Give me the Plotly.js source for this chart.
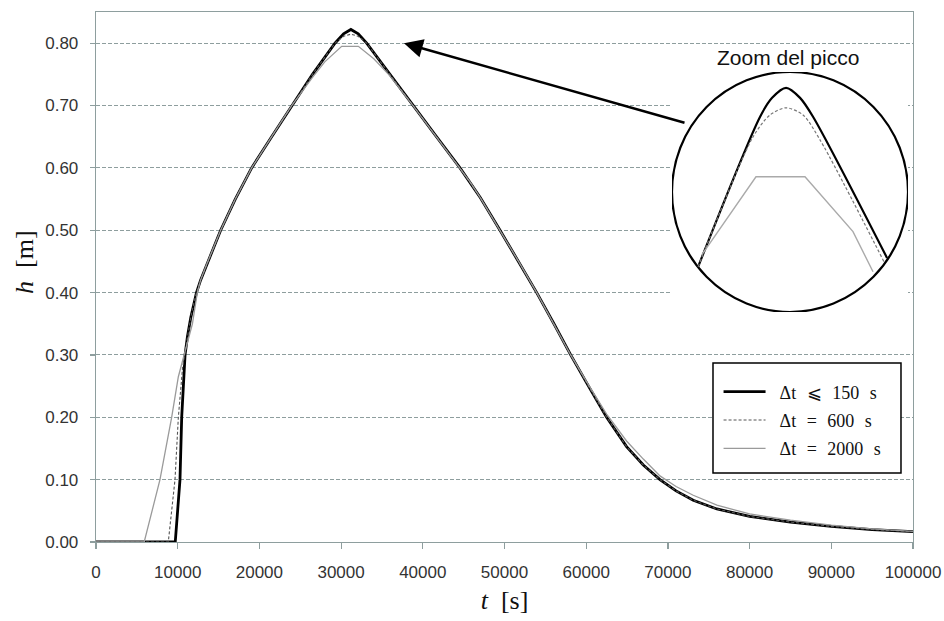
<!DOCTYPE html>
<html>
<head>
<meta charset="utf-8">
<script src="https://cdn.plot.ly/plotly-3.0.1.min.js"></script>
<style>html,body{margin:0;padding:0;background:#fff;}#chart{width:944px;height:621px;}</style>
</head>
<body>
<div id="chart"></div>
<script>
// ---- main series: t [s], h [m] ----
const t_dt150 = [0, 9700, 10280, 10490, 10900, 11200, 11600, 12000, 12300, 12800, 13600, 15260, 17050, 19050, 21500, 23950, 26500, 29250, 30300, 31200, 32100, 33130, 35950, 38800, 41670, 44550, 45800, 47050, 49450, 51720, 53940, 56050, 58100, 60280, 62500, 64940, 66990, 69030, 71000, 73100, 76000, 80000, 85000, 90000, 95000, 100000];
const h_dt150 = [0, 0, 0.10, 0.20, 0.30, 0.33, 0.36, 0.385, 0.40, 0.42, 0.447, 0.50, 0.55, 0.60, 0.65, 0.70, 0.75, 0.80, 0.815, 0.822, 0.815, 0.80, 0.75, 0.70, 0.65, 0.60, 0.577, 0.552, 0.50, 0.45, 0.40, 0.35, 0.30, 0.25, 0.20, 0.153, 0.1235, 0.10, 0.082, 0.067, 0.053, 0.041, 0.032, 0.025, 0.020, 0.0165];

const t_dt600 = [0, 8850, 9670, 10080, 10600, 11200, 11600, 12000, 12300, 12800, 13600, 15260, 17050, 19050, 21500, 23950, 26500, 29250, 30300, 31200, 32100, 33130, 35950, 38800, 41670, 44550, 45800, 47050, 49450, 51720, 53940, 56050, 58100, 60280, 62500, 64940, 66990, 69030, 71000, 73100, 76000, 80000, 85000, 90000, 95000, 100000];
const h_dt600 = [0, 0, 0.10, 0.20, 0.28, 0.33, 0.36, 0.385, 0.40, 0.42, 0.447, 0.50, 0.55, 0.60, 0.65, 0.70, 0.75, 0.80, 0.811, 0.8145, 0.811, 0.80, 0.75, 0.70, 0.65, 0.60, 0.577, 0.552, 0.50, 0.45, 0.40, 0.35, 0.30, 0.25, 0.20, 0.153, 0.1235, 0.10, 0.082, 0.067, 0.053, 0.041, 0.032, 0.025, 0.020, 0.0165];

const t_dt2000 = [0, 5900, 7830, 9260, 10080, 11100, 11800, 12400, 12800, 13600, 15260, 17050, 19050, 21500, 23950, 26500, 28000, 30070, 32110, 34000, 35950, 38800, 41670, 44550, 45800, 47050, 49450, 51720, 53940, 56050, 58100, 60280, 62500, 64940, 66990, 69030, 71000, 73100, 76000, 80000, 85000, 90000, 95000, 100000];
const h_dt2000 = [0, 0, 0.10, 0.20, 0.265, 0.313, 0.35, 0.40, 0.42, 0.447, 0.50, 0.55, 0.60, 0.65, 0.70, 0.745, 0.77, 0.795, 0.795, 0.775, 0.748, 0.70, 0.65, 0.60, 0.577, 0.552, 0.50, 0.45, 0.40, 0.35, 0.30, 0.252, 0.205, 0.162, 0.133, 0.106, 0.089, 0.075, 0.059, 0.045, 0.035, 0.027, 0.021, 0.017];

// ---- zoom of the peak (inset) ----
const zoom_t_dt150 = [27400, 29930, 30420, 30990, 31560, 32090, 35110];
const zoom_h_dt150 = [0.7697, 0.8119, 0.8172, 0.8200, 0.8172, 0.8119, 0.7722];
const zoom_t_dt600 = [27400, 29640, 30334, 30987, 31681, 32374, 34987];
const zoom_h_dt600 = [0.7697, 0.8062, 0.8124, 0.8144, 0.8124, 0.8054, 0.7711];
const zoom_t_dt2000 = [27558, 29762, 31762, 33721, 34538];
const zoom_h_dt2000 = [0.7731, 0.7950, 0.7950, 0.7796, 0.7683];
const zoomT = [26334, 35966];
const zoomH = [0.757, 0.8245];

const sp = '\u2002\u200A';
const legendNames = ['\u2002\u0394t' + sp + '\u2A7D' + sp + '150' + sp + 's',
                     '\u2002\u0394t' + sp + '=' + sp + '600' + sp + 's',
                     '\u2002\u0394t' + sp + '=' + sp + '2000' + sp + 's'];
const xTicks = [0, 10000, 20000, 30000, 40000, 50000, 60000, 70000, 80000, 90000, 100000];
const yTicks = [0, 0.1, 0.2, 0.3, 0.4, 0.5, 0.6, 0.7, 0.8];

const axisCol = '#8e9e9e';
const styles = [
  {color: '#000000', width: 2.8, dash: 'solid'},
  {color: '#555555', width: 1.1, dash: '3px,2px'},
  {color: '#9a9a9a', width: 1.3, dash: 'solid'}
];
const inStyles = [
  {color: '#000000', width: 2.2, dash: 'solid', shape: 'spline', smoothing: 0.8},
  {color: '#777777', width: 1.2, dash: '3px,2px', shape: 'spline', smoothing: 0.8},
  {color: '#aaaaaa', width: 1.4, dash: 'solid'}
];

const main = [[t_dt150, h_dt150], [t_dt600, h_dt600], [t_dt2000, h_dt2000]];
const zoom = [[zoom_t_dt150, zoom_h_dt150], [zoom_t_dt600, zoom_h_dt600], [zoom_t_dt2000, zoom_h_dt2000]];

const traces = [];
main.forEach((d, i) => {
  traces.push({x: d[0], y: d[1], type: 'scatter', mode: 'lines', name: legendNames[i],
    line: styles[i], xaxis: 'x', yaxis: 'y', legendgroup: 'g' + i, hoverinfo: 'skip'});
});
zoom.forEach((d, i) => {
  traces.push({x: d[0], y: d[1], type: 'scatter', mode: 'lines', showlegend: false,
    line: inStyles[i], xaxis: 'x2', yaxis: 'y2', hoverinfo: 'skip'});
});

const layout = {
  width: 944, height: 621,
  margin: {l: 96, r: 31, t: 12, b: 79},
  paper_bgcolor: '#ffffff', plot_bgcolor: '#ffffff',
  showlegend: true,
  legend: {
    x: 0.762, y: 0.318, xanchor: 'left', yanchor: 'top',
    bgcolor: 'rgba(0,0,0,0)', borderwidth: 0,
    font: {family: 'Liberation Serif, DejaVu Serif, serif', size: 18, color: '#111'},
    traceorder: 'grouped', tracegroupgap: 2, itemwidth: 42
  },
  xaxis: {
    domain: [0, 1], range: [0, 100000], tickvals: xTicks, ticktext: xTicks.map(String),
    showgrid: false, zeroline: false, showline: true, linecolor: axisCol, linewidth: 1.3, mirror: true,
    ticks: 'outside', ticklen: 6, tickcolor: axisCol, tickwidth: 1.2, ticklabelstandoff: 8,
    tickfont: {family: 'Liberation Sans, Arial, sans-serif', size: 17, color: '#333'},
    title: {text: '<i>t</i>  [s]', font: {family: 'Liberation Serif, serif', size: 26, color: '#111'}, standoff: 10}
  },
  yaxis: {
    domain: [0, 1], range: [0, 0.85], tickvals: yTicks, ticktext: yTicks.map(v => v.toFixed(2)),
    showgrid: true, gridcolor: axisCol, gridwidth: 1, griddash: '4px,2px',
    zeroline: false, showline: true, linecolor: axisCol, linewidth: 1.3, mirror: true,
    ticks: 'outside', ticklen: 5, tickcolor: axisCol, tickwidth: 1.2, ticklabelstandoff: 8,
    tickfont: {family: 'Liberation Sans, Arial, sans-serif', size: 17, color: '#333'}
  },
  xaxis2: {domain: [0.705, 0.9939], range: zoomT, anchor: 'y2', visible: false, fixedrange: true},
  yaxis2: {domain: [0.434, 0.887], range: zoomH, anchor: 'x2', visible: false, fixedrange: true},
  shapes: [
    {type: 'circle', xref: 'x2', yref: 'y2', x0: zoomT[0], x1: zoomT[1], y0: zoomH[0], y1: zoomH[1],
     line: {color: '#000', width: 2.2}, fillcolor: '#ffffff', layer: 'below'},
    {type: 'rect', xref: 'paper', yref: 'paper', x0: 0.7552, x1: 0.9853, y0: 0.1302, y1: 0.3377,
     line: {color: '#000', width: 1.5}, fillcolor: '#ffffff', layer: 'above'}
  ],
  annotations: [
    {xref: 'x', yref: 'y', x: 37700, y: 0.80, ax: 282, ay: 80, axref: 'pixel', ayref: 'pixel',
     text: '', showarrow: true, arrowhead: 2, arrowsize: 1.5, arrowwidth: 2.5, arrowcolor: '#000', standoff: 0},
    {xref: 'paper', yref: 'paper', x: (788 - 96) / 817, y: (542 - 58) / 530, xanchor: 'center', yanchor: 'middle',
     text: 'Zoom del picco', showarrow: false,
     font: {family: 'Liberation Sans, Arial, sans-serif', size: 21, color: '#111'}},
    {xref: 'paper', yref: 'paper', x: (24 - 96) / 817, y: (542 - 262) / 530, xanchor: 'center', yanchor: 'middle',
     text: '<i>h</i>  [m]', textangle: -90, showarrow: false,
     font: {family: 'Liberation Serif, serif', size: 26, color: '#111'}}
  ]
};

Plotly.newPlot('chart', traces, layout, {displayModeBar: false, staticPlot: true});
</script>
</body>
</html>
